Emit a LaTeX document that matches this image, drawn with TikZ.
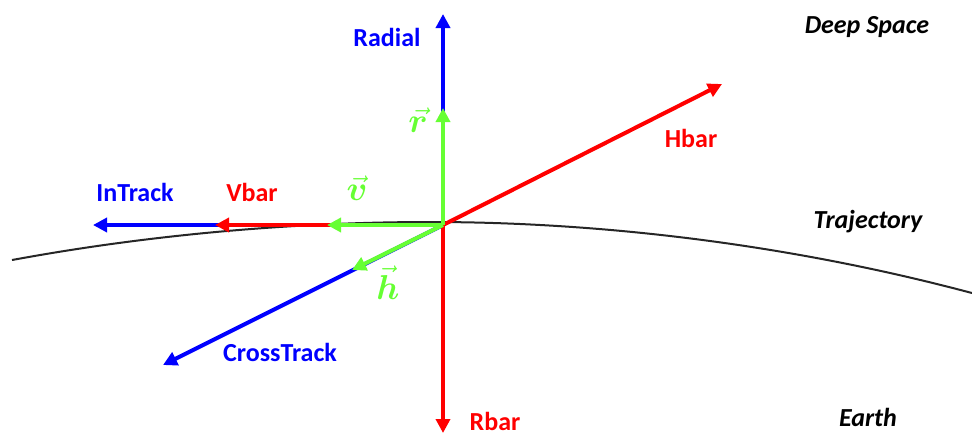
\documentclass[tikz,border=0pt]{standalone}
\usepackage{fontspec}
\setmainfont{Carlito}
\usepackage{amsmath}
\usepackage{bm}
\usetikzlibrary{arrows.meta, positioning, calc}

\definecolor{axisblue}{RGB}{0,0,255}
\definecolor{axisred}{RGB}{255,0,0}
\definecolor{axisgreen}{RGB}{102,255,51}

\begin{document}
\begin{tikzpicture}[
    x=0.5pt, y=-0.5pt,
    vecarrow/.style={-{Triangle[length=7pt, width=7pt]}, line width=2pt},
    axislabel/.style={font=\fontsize{13}{15}\selectfont\bfseries},
    veclabel/.style={text=axisgreen, font=\fontsize{17}{19}\selectfont},
    region/.style={font=\fontsize{13}{15}\selectfont\bfseries\itshape}
]
    \useasboundingbox (0,0) rectangle (972,435);

    % trajectory
    \draw[line width=1pt, black!85] (12,260) parabola bend (430,222) (972,293);

    \coordinate (O)       at (443,225);
    \coordinate (radTip)  at (443,14);
    \coordinate (rTip)    at (443,108);
    \coordinate (inTip)   at (93,225);
    \coordinate (vbarTip) at (215,225);
    \coordinate (vTip)    at (327,225);
    \coordinate (crTip)   at (163,365);
    \coordinate (hTip)    at (352,270);
    \coordinate (hbarTip) at (722,84);
    \coordinate (rbarTip) at (443,433);

    % blue, then red, then green on top
    \foreach \j in {radTip, inTip, crTip} {
        \draw[vecarrow, axisblue] (O) -- (\j);
    }
    \foreach \j in {vbarTip, hbarTip, rbarTip} {
        \draw[vecarrow, axisred] (O) -- (\j);
    }
    \foreach \j in {rTip, vTip, hTip} {
        \draw[vecarrow, axisgreen] (O) -- (\j);
    }

    \node[axislabel, text=axisblue] (radial) at (387,37)  {Radial};
    \node[axislabel, text=axisblue] (intrack) at (135,192) {InTrack};
    \node[axislabel, text=axisblue] (cross) at (280,352) {CrossTrack};
    \node[axislabel, text=axisred]  (vbar) at (252,192) {Vbar};
    \node[axislabel, text=axisred]  (hbar) at (691,138) {Hbar};
    \node[axislabel, text=axisred]  (rbar) at (495,421) {Rbar};

    \node[veclabel] (rlab) at (418,120) {$\vec{\bm{r}}$};
    \node[veclabel] (vlab) at (357,188) {$\vec{\bm{v}}$};
    \node[veclabel] (hlab) at (388,283) {$\vec{\bm{h}}$};

    \node[region] (space) at (867,27)  {Deep Space};
    \node[region] (traj)  at (868,222) {Trajectory};
    \node[region] (earth) at (868,417) {Earth};
\end{tikzpicture}
\end{document}
